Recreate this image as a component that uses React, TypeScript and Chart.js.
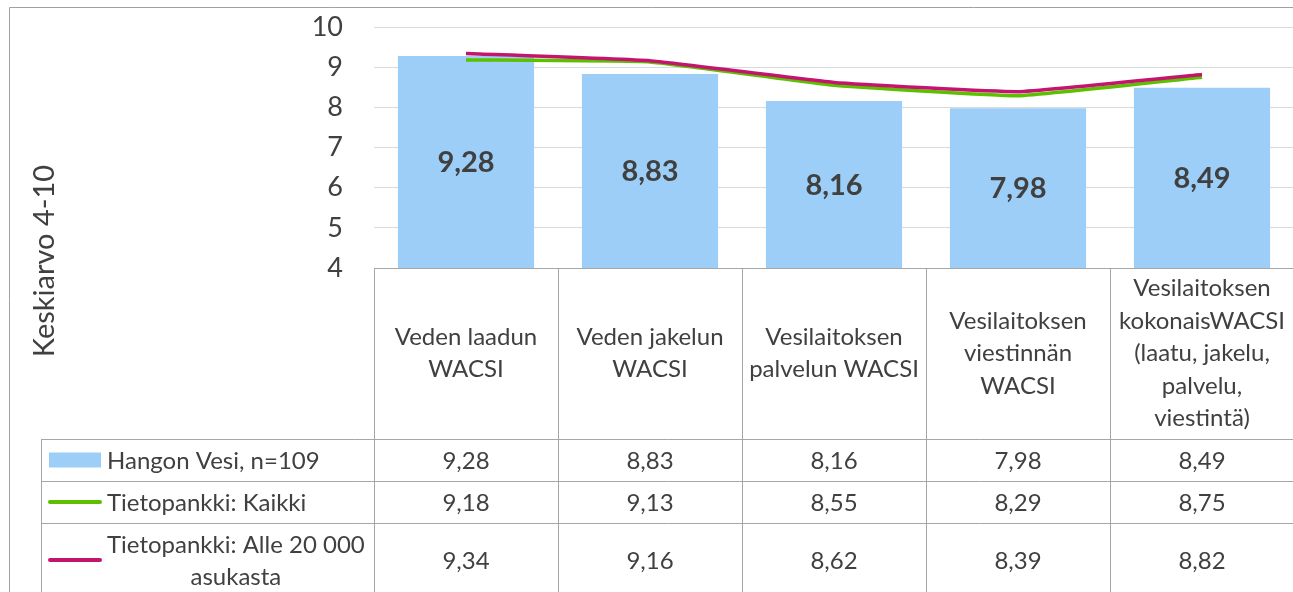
import React, { useEffect, useRef } from "react";
import { Chart, registerables } from "chart.js";

Chart.register(...registerables);

// ---------- data ----------
const categories: string[][] = [
  ["Veden laadun", "WACSI"],
  ["Veden jakelun", "WACSI"],
  ["Vesilaitoksen", "palvelun WACSI"],
  ["Vesilaitoksen", "viestinnän", "WACSI"],
  ["Vesilaitoksen", "kokonaisWACSI", "(laatu, jakelu,", "palvelu,", "viestintä)"],
];
const seriesNames: string[] = [
  "Hangon Vesi, n=109",
  "Tietopankki: Kaikki",
  "Tietopankki: Alle 20 000 asukasta",
];
const hangonVesi: number[] = [9.28, 8.83, 8.16, 7.98, 8.49];
const tietopankkiKaikki: number[] = [9.18, 9.13, 8.55, 8.29, 8.75];
const tietopankkiAlle20000: number[] = [9.34, 9.16, 8.62, 8.39, 8.82];
const yTicks: number[] = [4, 5, 6, 7, 8, 9, 10];
const axisTitle = "Keskiarvo 4-10";

// ---------- styles ----------
const FONT = "Lato";
const TEXT = "#404040";
const BAR = "#9DCEF8";
const GREEN = "#5CC000";
const MAGENTA = "#C4156E";
const GRID = "#d9d9d9";
const TABLE_LINE = "#a6a6a6";
const FRAME = "#a0a0a0";

const fmt = (v: number) => v.toFixed(2).replace(".", ",");

const seriesValues = [hangonVesi, tietopankkiKaikki, tietopankkiAlle20000];
const seriesColors = [BAR, GREEN, MAGENTA];

function wrap(ctx: CanvasRenderingContext2D, text: string, maxW: number): string[] {
  const words = text.split(" ");
  const lines: string[] = [];
  let cur = "";
  for (const w of words) {
    const t = cur ? cur + " " + w : w;
    if (ctx.measureText(t).width > maxW && cur) {
      lines.push(cur);
      cur = w;
    } else cur = t;
  }
  if (cur) lines.push(cur);
  return lines;
}

const tablePlugin = {
  id: "dataTable",
  afterDatasetsDraw(chart: any) {
    const { ctx, chartArea } = chart;
    const meta = chart.getDatasetMeta(0);
    ctx.save();
    ctx.font = `bold 29px ${FONT}`;
    ctx.fillStyle = TEXT;
    ctx.textAlign = "center";
    ctx.textBaseline = "middle";
    meta.data.forEach((el: any, i: number) => {
      const p = el.getProps(["x", "y", "base"], true);
      const base = Math.min(p.base, chartArea.bottom);
      ctx.fillText(fmt(hangonVesi[i]), p.x, (p.y + base) / 2 + 1);
    });
    ctx.restore();
  },
  afterDraw(chart: any) {
    const { ctx, chartArea } = chart;
    const L = chartArea.left;
    const R = chartArea.right;
    const T = chartArea.bottom;
    const n = categories.length;
    const cw = (R - L) / n;
    const rowTops = [439, 481, 523, 597];
    const legendLeft = 41;
    const bottom = 600;

    ctx.save();
    // frame
    ctx.strokeStyle = FRAME;
    ctx.lineWidth = 1;
    ctx.beginPath();
    ctx.moveTo(9.5, bottom);
    ctx.lineTo(9.5, 7.5);
    ctx.lineTo(1300, 7.5);
    ctx.stroke();

    // table lines
    ctx.strokeStyle = TABLE_LINE;
    ctx.beginPath();
    ctx.moveTo(L, Math.round(T) + 0.5);
    ctx.lineTo(R, Math.round(T) + 0.5);
    for (let r = 0; r < 3; r++) {
      ctx.moveTo(legendLeft, rowTops[r] + 0.5);
      ctx.lineTo(R, rowTops[r] + 0.5);
    }
    for (let i = 0; i <= n; i++) {
      const x = Math.round(L + i * cw) + 0.5;
      ctx.moveTo(x, T);
      ctx.lineTo(x, bottom);
    }
    ctx.moveTo(legendLeft + 0.5, rowTops[0]);
    ctx.lineTo(legendLeft + 0.5, bottom);
    ctx.stroke();

    // header text
    ctx.fillStyle = TEXT;
    ctx.font = `24px ${FONT}`;
    ctx.textAlign = "center";
    ctx.textBaseline = "middle";
    const lh = 32.5;
    const hc = (T + rowTops[0]) / 2;
    categories.forEach((lines, i) => {
      const cx = L + (i + 0.5) * cw;
      const y0 = hc - ((lines.length - 1) * lh) / 2;
      lines.forEach((ln, k) => ctx.fillText(ln, cx, y0 + k * lh));
    });

    // values + legend
    seriesValues.forEach((vals, r) => {
      const cy = (rowTops[r] + rowTops[r + 1]) / 2;
      ctx.textAlign = "center";
      vals.forEach((v, i) => {
        ctx.fillText(fmt(v), L + (i + 0.5) * cw, cy + 1);
      });
      // legend key
      if (r === 0) {
        ctx.fillStyle = seriesColors[r];
        ctx.fillRect(49, cy - 7.5, 52, 15);
      } else {
        ctx.strokeStyle = seriesColors[r];
        ctx.lineWidth = 4;
        ctx.lineCap = "round";
        ctx.beginPath();
        ctx.moveTo(50, cy);
        ctx.lineTo(100, cy);
        ctx.stroke();
      }
      ctx.fillStyle = TEXT;
      const lines = wrap(ctx, seriesNames[r], 262);
      const bw = Math.max(...lines.map((l) => ctx.measureText(l).width));
      const y0 = cy - ((lines.length - 1) * 32) / 2;
      lines.forEach((ln, k) => ctx.fillText(ln, 107 + bw / 2, y0 + k * 32 + 1));
    });

    // axis title
    ctx.save();
    ctx.font = `29px ${FONT}`;
    ctx.translate(45, 261);
    ctx.rotate(-Math.PI / 2);
    ctx.textAlign = "center";
    ctx.textBaseline = "middle";
    ctx.fillText(axisTitle, 0, 0);
    ctx.restore();

    ctx.restore();
  },
};

export default function App() {
  const ref = useRef<HTMLCanvasElement | null>(null);
  useEffect(() => {
    if (!ref.current) return;
    const labels = categories.map((c) => c.join(" "));
    const chart = new Chart(ref.current, {
      type: "bar",
      data: {
        labels,
        datasets: [
          {
            type: "bar",
            label: seriesNames[0],
            data: hangonVesi,
            backgroundColor: BAR,
            borderWidth: 0,
            barPercentage: 0.74,
            categoryPercentage: 1,
            order: 3,
          },
          {
            type: "line",
            label: seriesNames[1],
            data: tietopankkiKaikki,
            borderColor: GREEN,
            borderWidth: 3.5,
            pointRadius: 0,
            tension: 0.1,
            order: 2,
          },
          {
            type: "line",
            label: seriesNames[2],
            data: tietopankkiAlle20000,
            borderColor: MAGENTA,
            borderWidth: 3.5,
            pointRadius: 0,
            tension: 0.1,
            order: 1,
          },
        ] as any,
      },
      options: {
        responsive: false,
        animation: false,
        layout: { padding: { left: 0, top: 27, right: 0, bottom: 592 - 268 } },
        plugins: { legend: { display: false }, tooltip: { enabled: false } },
        scales: {
          x: { display: false, offset: true },
          y: {
            min: yTicks[0],
            max: yTicks[yTicks.length - 1],
            ticks: {
              stepSize: 1,
              color: TEXT,
              font: { family: FONT, size: 27 },
              padding: 31,
            },
            grid: { color: GRID, drawTicks: false, lineWidth: 1 },
            border: { display: false },
            afterFit: (scale: any) => {
              scale.width = 374;
              scale.paddingTop = 0;
              scale.paddingBottom = 0;
            },
          },
        },
      },
      plugins: [tablePlugin],
    });
    return () => chart.destroy();
  }, []);

  return (
    <div
      style={{
        position: "fixed",
        left: 0,
        top: 0,
        width: 1293,
        height: 592,
        overflow: "hidden",
        background: "#fff",
      }}
    >
      <canvas ref={ref} width={1294} height={592} style={{ display: "block" }} />
    </div>
  );
}
